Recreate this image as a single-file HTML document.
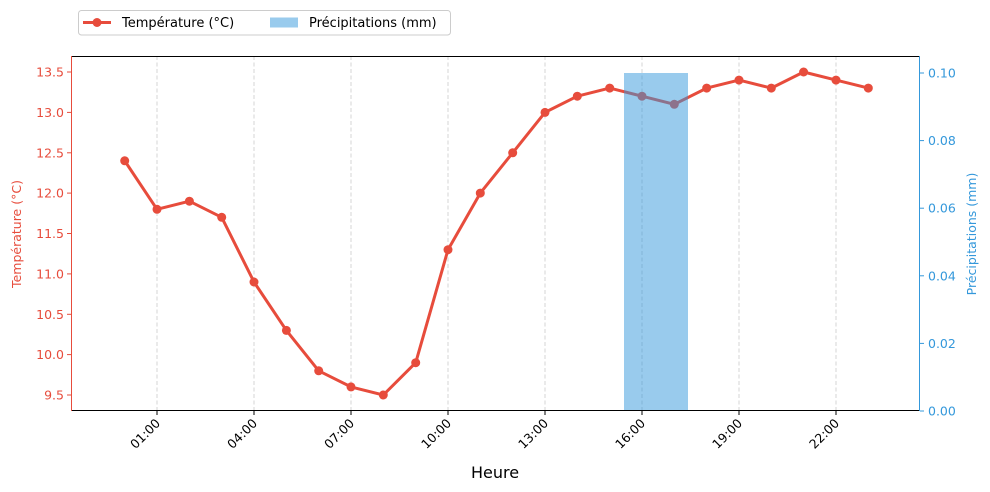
<!DOCTYPE html><html><head><meta charset="utf-8"><style>body{margin:0;background:#fff}svg{display:block;font-family:"DejaVu Sans","Liberation Sans",sans-serif}</style></head><body>
<svg width="990" height="492" viewBox="0 0 990 492">
<g stroke="#d0d0d0" stroke-dasharray="4,2.5" stroke-width="0.9">
<line x1="157" y1="56" x2="157" y2="411"/><line x1="254" y1="56" x2="254" y2="411"/><line x1="351" y1="56" x2="351" y2="411"/><line x1="448" y1="56" x2="448" y2="411"/><line x1="545" y1="56" x2="545" y2="411"/><line x1="642" y1="56" x2="642" y2="411"/><line x1="739" y1="56" x2="739" y2="411"/><line x1="836" y1="56" x2="836" y2="411"/>
</g>
<g fill="#e74c3c"><polyline fill="none" stroke="#e74c3c" stroke-width="3" stroke-linejoin="round" points="124.7,160.8 157,209.3 189.4,201.2 221.7,217.3 254,282 286.4,330.4 318.7,370.8 351,386.9 383.3,395 415.7,362.7 448,249.7 480.3,193.1 512.7,152.8 545,112.4 577.3,96.2 609.7,88.1 642,96.2 674.3,104.3 706.7,88.1 739,80.1 771.3,88.1 803.6,72 836,80.1 868.3,88.1"/>
<circle cx="124.7" cy="160.8" r="4.5"/><circle cx="157" cy="209.3" r="4.5"/><circle cx="189.4" cy="201.2" r="4.5"/><circle cx="221.7" cy="217.3" r="4.5"/><circle cx="254" cy="282" r="4.5"/><circle cx="286.4" cy="330.4" r="4.5"/><circle cx="318.7" cy="370.8" r="4.5"/><circle cx="351" cy="386.9" r="4.5"/><circle cx="383.3" cy="395" r="4.5"/><circle cx="415.7" cy="362.7" r="4.5"/><circle cx="448" cy="249.7" r="4.5"/><circle cx="480.3" cy="193.1" r="4.5"/><circle cx="512.7" cy="152.8" r="4.5"/><circle cx="545" cy="112.4" r="4.5"/><circle cx="577.3" cy="96.2" r="4.5"/><circle cx="609.7" cy="88.1" r="4.5"/><circle cx="642" cy="96.2" r="4.5"/><circle cx="674.3" cy="104.3" r="4.5"/><circle cx="706.7" cy="88.1" r="4.5"/><circle cx="739" cy="80.1" r="4.5"/><circle cx="771.3" cy="88.1" r="4.5"/><circle cx="803.6" cy="72" r="4.5"/><circle cx="836" cy="80.1" r="4.5"/><circle cx="868.3" cy="88.1" r="4.5"/></g>
<rect x="624" y="73" width="64" height="338" fill="#3498db" fill-opacity="0.5"/>
<rect x="71.5" y="56.5" width="848" height="354" fill="none" stroke="#000" stroke-width="1"/>
<line x1="919.5" y1="56" x2="919.5" y2="411" stroke="#3498db"/>
<line x1="71.5" y1="56" x2="71.5" y2="411" stroke="#e74c3c"/>
<g font-size="12.5" fill="#e74c3c" text-anchor="end">
<g stroke="#e74c3c"><line x1="67" x2="71" y1="395" y2="395"/><line x1="67" x2="71" y1="354.6" y2="354.6"/><line x1="67" x2="71" y1="314.3" y2="314.3"/><line x1="67" x2="71" y1="273.9" y2="273.9"/><line x1="67" x2="71" y1="233.5" y2="233.5"/><line x1="67" x2="71" y1="193.1" y2="193.1"/><line x1="67" x2="71" y1="152.8" y2="152.8"/><line x1="67" x2="71" y1="112.4" y2="112.4"/><line x1="67" x2="71" y1="72" y2="72"/></g>
<text x="64" y="399.5">9.5</text><text x="64" y="359">10.0</text><text x="64" y="318.8">10.5</text><text x="64" y="278.4">11.0</text><text x="64" y="238">11.5</text><text x="64" y="197.6">12.0</text><text x="64" y="157.3">12.5</text><text x="64" y="116.9">13.0</text><text x="64" y="76.5">13.5</text>
</g>
<text transform="translate(21,234) rotate(-90)" font-size="12.5" fill="#e74c3c" text-anchor="middle">Température (°C)</text>
<g font-size="12.5" fill="#3498db">
<g stroke="#3498db"><line x1="920" x2="924" y1="411" y2="411"/><line x1="920" x2="924" y1="343.4" y2="343.4"/><line x1="920" x2="924" y1="275.8" y2="275.8"/><line x1="920" x2="924" y1="208.2" y2="208.2"/><line x1="920" x2="924" y1="140.6" y2="140.6"/><line x1="920" x2="924" y1="73" y2="73"/></g>
<text x="928" y="415.5">0.00</text><text x="928" y="348">0.02</text><text x="928" y="280.3">0.04</text><text x="928" y="212.7">0.06</text><text x="928" y="145">0.08</text><text x="928" y="77.5">0.10</text>
</g>
<text transform="translate(976,234) rotate(-90)" font-size="12.5" fill="#3498db" text-anchor="middle">Précipitations (mm)</text>
<g font-size="12.5" fill="#000" text-anchor="end">
<g stroke="#000"><line x1="157" x2="157" y1="411" y2="415"/><line x1="254" x2="254" y1="411" y2="415"/><line x1="351" x2="351" y1="411" y2="415"/><line x1="448" x2="448" y1="411" y2="415"/><line x1="545" x2="545" y1="411" y2="415"/><line x1="642" x2="642" y1="411" y2="415"/><line x1="739" x2="739" y1="411" y2="415"/><line x1="836" x2="836" y1="411" y2="415"/></g>
<text transform="translate(161,424) rotate(-45)">01:00</text><text transform="translate(258,424) rotate(-45)">04:00</text><text transform="translate(355,424) rotate(-45)">07:00</text><text transform="translate(452,424) rotate(-45)">10:00</text><text transform="translate(549,424) rotate(-45)">13:00</text><text transform="translate(646,424) rotate(-45)">16:00</text><text transform="translate(743,424) rotate(-45)">19:00</text><text transform="translate(840,424) rotate(-45)">22:00</text>
</g>
<text x="495" y="478" font-size="16" text-anchor="middle">Heure</text>
<rect x="78.5" y="10.5" width="372" height="24.5" rx="3" fill="#fff" stroke="#ccc"/>
<line x1="83" x2="111" y1="22.5" y2="22.5" stroke="#e74c3c" stroke-width="3"/><circle cx="97" cy="22.5" r="4.5" fill="#e74c3c"/>
<text x="122" y="27" font-size="13">Température (°C)</text>
<rect x="270" y="17.5" width="28" height="10" fill="#3498db" fill-opacity="0.5"/>
<text x="309" y="27" font-size="13">Précipitations (mm)</text>
</svg></body></html>
